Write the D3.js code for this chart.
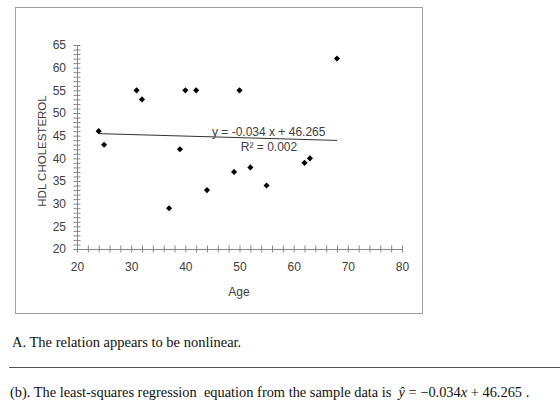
<!DOCTYPE html>
<html>
<head>
<meta charset="utf-8">
<script src="https://cdn.jsdelivr.net/npm/d3@7"></script>
<style>
  body { margin: 0; background: #fff; }
</style>
</head>
<body>
<div id="chart"></div>
<script>
// data
const ages = [24, 25, 31, 32, 37, 39, 40, 42, 44, 49, 50, 52, 55, 62, 63, 68];
const hdl  = [46, 43, 55, 53, 29, 42, 55, 55, 33, 37, 55, 38, 34, 39, 40, 62];
const xTicks = [20, 30, 40, 50, 60, 70, 80];
const yTicks = [20, 25, 30, 35, 40, 45, 50, 55, 60, 65];
const eqText = "y = -0.034 x + 46.265";
const r2Text = "R\u00b2 = 0.002";

const w = 560, h = 407;
const sans = "'Liberation Sans', Arial, sans-serif";
const serif = "'Liberation Serif', 'Times New Roman', serif";

const svg = d3.select("#chart").append("svg")
  .attr("width", w)
  .attr("height", h)
  .style("font-family", sans);

// chart frame
svg.append("rect")
  .attr("x", 15.5).attr("y", 7.5)
  .attr("width", 407).attr("height", 306)
  .attr("fill", "#fff")
  .attr("stroke", "#a0a0a0");

const x = d3.scaleLinear().domain([20, 80]).range([77, 402]);
const y = d3.scaleLinear().domain([20, 65]).range([249, 45]);

// y axis: minor every 1, labels every 5, ticks cross the line
const yAxis = svg.append("g")
  .attr("transform", `translate(${x(20)},0)`)
  .call(d3.axisLeft(y).tickValues(d3.range(20, 66, 1)).tickSize(3.5).tickSizeOuter(0).tickFormat(""));
yAxis.selectAll(".tick line").attr("x1", 3.5);

const yLab = svg.append("g")
  .attr("transform", `translate(${x(20)},0)`)
  .call(d3.axisLeft(y).tickValues(yTicks).tickSize(0).tickPadding(11));
yLab.select(".domain").remove();

// x axis: minor every 2, labels every 10
const xAxis = svg.append("g")
  .attr("transform", `translate(0,${y(20)})`)
  .call(d3.axisBottom(x).tickValues(d3.range(20, 81, 2)).tickSize(3.5).tickSizeOuter(0).tickFormat(""));
xAxis.selectAll(".tick line").attr("y1", -3.5);

const xLab = svg.append("g")
  .attr("transform", `translate(0,${y(20)})`)
  .call(d3.axisBottom(x).tickValues(xTicks).tickSize(0).tickPadding(13));
xLab.select(".domain").remove();

svg.selectAll(".domain, .tick line").attr("stroke", "#868686");
svg.selectAll(".tick text")
  .style("font-family", sans)
  .style("font-size", "12px")
  .attr("fill", "#404040");

// axis titles
svg.append("text")
  .attr("transform", `translate(46,${(y(20) + y(65)) / 2 + 4}) rotate(-90)`)
  .attr("text-anchor", "middle")
  .style("font-size", "11.5px")
  .attr("fill", "#404040")
  .text("HDL CHOLESTEROL");

svg.append("text")
  .attr("x", 239).attr("y", 296)
  .attr("text-anchor", "middle")
  .style("font-size", "12px")
  .attr("fill", "#404040")
  .text("Age");

// least-squares trendline
const mx = d3.mean(ages), my = d3.mean(hdl);
const slope = d3.sum(ages, (a, i) => (a - mx) * (hdl[i] - my)) / d3.sum(ages, a => (a - mx) ** 2);
const icpt = my - slope * mx;
const [x0, x1] = d3.extent(ages);
svg.append("line")
  .attr("x1", x(x0)).attr("y1", y(icpt + slope * x0))
  .attr("x2", x(x1)).attr("y2", y(icpt + slope * x1))
  .attr("stroke", "#333")
  .attr("stroke-width", 1);

svg.append("text")
  .attr("x", 212).attr("y", 136)
  .style("font-size", "12px")
  .attr("fill", "#404040")
  .text(eqText);
svg.append("text")
  .attr("x", 269).attr("y", 150.5)
  .attr("text-anchor", "middle")
  .style("font-size", "12px")
  .attr("fill", "#404040")
  .text(r2Text);

// points
svg.selectAll("path.pt")
  .data(ages)
  .enter()
  .append("path")
  .attr("class", "pt")
  .attr("transform", (d, i) => `translate(${x(d)},${y(hdl[i])})`)
  .attr("d", d3.symbol(d3.symbolDiamond2, 24))
  .attr("fill", "#000");

// text below the chart
svg.append("text")
  .attr("x", 12).attr("y", 347)
  .style("font-family", serif)
  .style("font-size", "14.5px")
  .attr("fill", "#111")
  .text("A. The relation appears to be nonlinear.");

svg.append("line")
  .attr("x1", 9).attr("x2", 560)
  .attr("y1", 367.5).attr("y2", 367.5)
  .attr("stroke", "#555");

const b = svg.append("text")
  .attr("x", 10).attr("y", 397)
  .style("font-family", serif)
  .style("font-size", "14.4px")
  .attr("fill", "#111");
b.append("tspan").text("(b). The least-squares regression\u00a0 equation from the sample data is\u00a0 ");
b.append("tspan").style("font-style", "italic").text("\u0177");
b.append("tspan").text(" = \u22120.034");
b.append("tspan").style("font-style", "italic").text("x");
b.append("tspan").text(" + 46.265 .");
</script>
</body>
</html>
